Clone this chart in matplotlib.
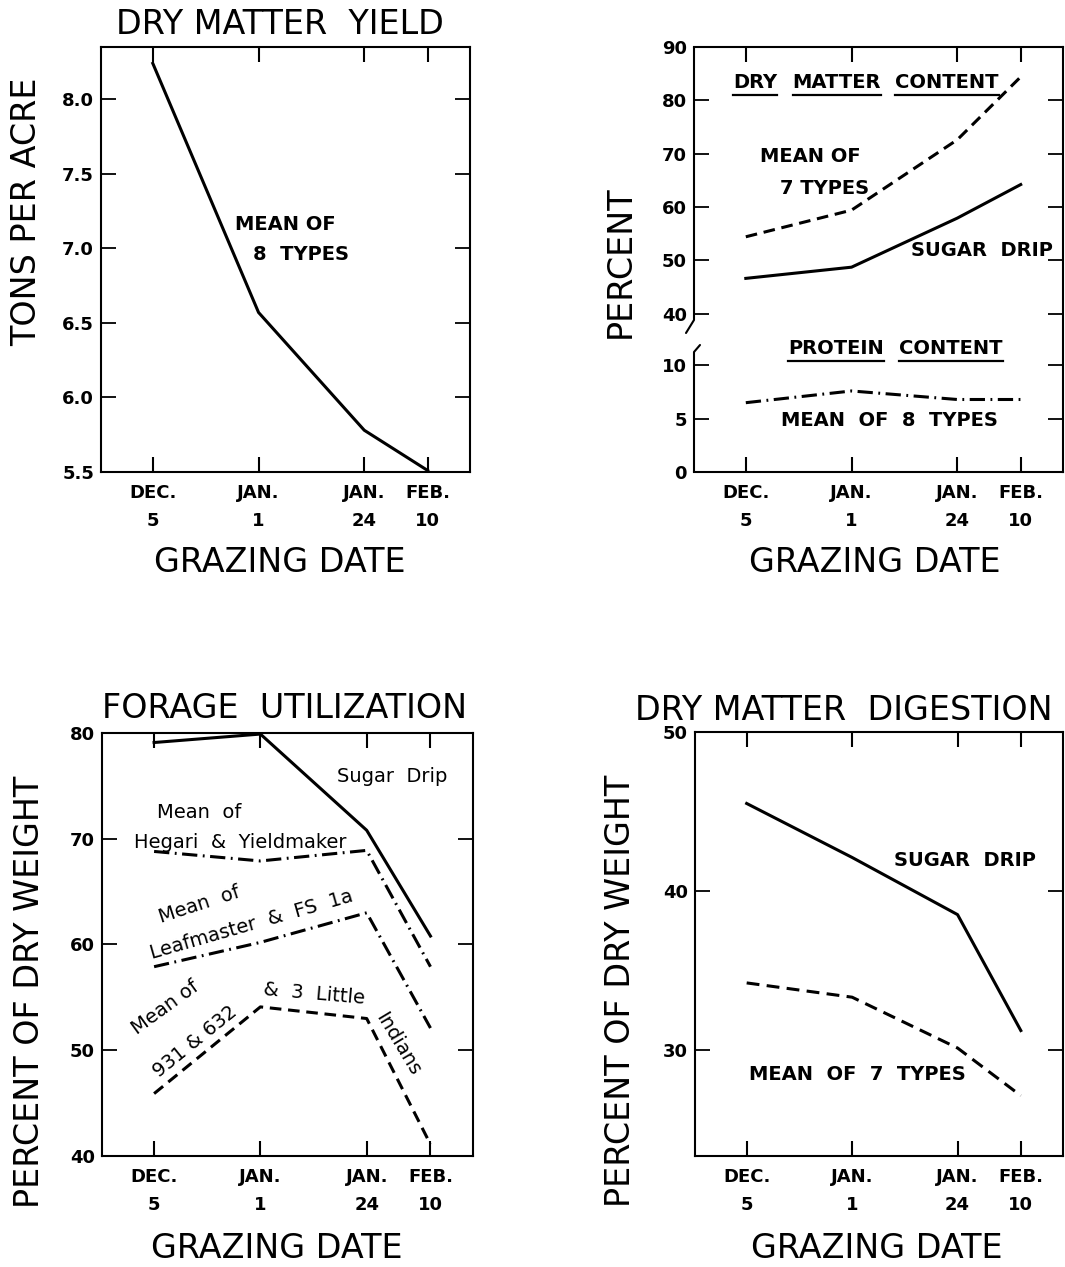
import matplotlib
matplotlib.use("Agg")
import matplotlib.pyplot as plt
import numpy as np
from matplotlib.lines import Line2D

# ---------------- data ----------------
date_labels = ["DEC.\n5", "JAN.\n1", "JAN.\n24", "FEB.\n10"]
date_pos = [0, 1, 2, 2.6]

yield_mean8 = [8.24, 6.57, 5.78, 5.51]

drymatter_mean7 = [54.4, 59.4, 72.6, 84.4]
drymatter_sugar = [46.6, 48.7, 57.9, 64.2]
protein_mean8 = [6.5, 7.6, 6.8, 6.8]

util_sugar = [79.1, 79.9, 70.8, 60.8]
util_hegari = [68.8, 67.9, 68.9, 57.9]
util_leafmaster = [57.9, 60.2, 63.0, 52.1]
util_931 = [45.9, 54.1, 53.0, 41.1]

digest_sugar = [45.5, 42.1, 38.5, 31.2]
digest_mean7 = [34.2, 33.3, 30.1, 27.1]

yield_ticks = [5.5, 6.0, 6.5, 7.0, 7.5, 8.0]
content_ticks = [0, 5, 10, 40, 50, 60, 70, 80, 90]
util_ticks = [40, 50, 60, 70, 80]
digest_ticks = [30, 40, 50]

# ---------------- figure ----------------
W, H = 1065, 1267
fig = plt.figure(figsize=(W / 100, H / 100), dpi=100)
fig.patch.set_facecolor("white")

LW = 2.2
SP = 1.5
FS_TICK = 13
FS_BIG = 24
FS_LAB = 14


def fx(px):
    return px / W


def fy(py):
    return 1 - py / H


def add_ax(l, t, r, b):
    return fig.add_axes([l / W, 1 - b / H, (r - l) / W, (b - t) / H])


def style(ax, yticks, ytlabels):
    ax.set_xlim(-0.49, 3.0)
    ax.set_xticks(date_pos)
    ax.set_xticklabels(date_labels, fontsize=FS_TICK, fontweight="bold",
                       linespacing=1.65)
    ax.set_yticks(yticks)
    ax.set_yticklabels(ytlabels, fontsize=FS_TICK, fontweight="bold")
    ax.tick_params(axis="x", direction="in", top=True, bottom=True,
                   length=11, width=1.5, pad=9)
    ax.tick_params(axis="y", direction="in", left=True, right=True,
                   length=11, width=1.3, pad=5)
    for s in ax.spines.values():
        s.set_linewidth(SP)


def ftext(x, y, s, size=FS_LAB, weight="bold", rot=0, **kw):
    return fig.text(fx(x), fy(y), s, fontsize=size, fontweight=weight,
                    ha="center", va="center", rotation=rot,
                    rotation_mode="anchor", **kw)


dash = (3.8, 2.2)
dashdot = (5.0, 1.8, 0.6, 1.8)

# ---------------- panel 1: dry matter yield ----------------
ax1 = add_ax(101, 47, 470, 472)
ax1.plot(date_pos, yield_mean8, color="k", lw=LW)
ax1.set_ylim(5.5, 8.35)
style(ax1, yield_ticks, [f"{v:.1f}" for v in yield_ticks])
ftext(280, 24, "DRY MATTER  YIELD", size=FS_BIG, weight="normal")
ftext(27, 212, "TONS PER ACRE", size=FS_BIG, weight="normal", rot=90)
ftext(280, 562, "GRAZING DATE", size=FS_BIG, weight="normal")
ftext(285, 225, "MEAN OF")
ftext(301, 255, "8  TYPES")

# ---------------- panel 2: dry matter / protein content ----------------
U40 = 14.86


def fwd(v):
    v = np.asarray(v, dtype=float)
    return np.where(v <= 10, v,
                    np.where(v >= 40, U40 + (v - 40) / 2.0,
                             10 + (v - 10) * (U40 - 10) / 30.0))


def inv(u):
    u = np.asarray(u, dtype=float)
    return np.where(u <= 10, u,
                    np.where(u >= U40, 40 + (u - U40) * 2.0,
                             10 + (u - 10) * 30.0 / (U40 - 10)))


ax2 = add_ax(694, 47, 1063, 472)
ax2.set_yscale("function", functions=(fwd, inv))
ax2.plot(date_pos, drymatter_mean7, color="k", lw=LW, ls=(0, dash))
ax2.plot(date_pos, drymatter_sugar, color="k", lw=LW)
ax2.plot(date_pos, protein_mean8, color="k", lw=LW, ls=(0, dashdot))
ax2.set_ylim(0, 90)
style(ax2, content_ticks, [str(v) for v in content_ticks])
ax2.spines["left"].set_visible(False)


def a2(px, py):
    return ((px - 694) / (1063 - 694), (472 - py) / (472 - 47))


for seg in ([(694, 47), (694, 320), (686, 333)],
            [(700, 345), (694, 352), (694, 472)]):
    pts = [a2(*p) for p in seg]
    ax2.plot([p[0] for p in pts], [p[1] for p in pts], color="k", lw=SP,
             transform=ax2.transAxes, clip_on=False, solid_capstyle="round")

ftext(620, 262, "PERCENT", size=FS_BIG, weight="normal", rot=90)
ftext(875, 562, "GRAZING DATE", size=FS_BIG, weight="normal")
ftext(810, 157, "MEAN OF")
ftext(825, 188, "7 TYPES")
ftext(982, 251, "SUGAR  DRIP")
ftext(889, 420, "MEAN  OF  8  TYPES")

under_words = [
    (ftext(755, 82, "DRY"), 95),
    (ftext(837, 82, "MATTER"), 95),
    (ftext(947, 82, "CONTENT"), 95),
    (ftext(836, 349, "PROTEIN"), 361),
    (ftext(951, 349, "CONTENT"), 361),
]

# ---------------- panel 3: forage utilization ----------------
ax3 = add_ax(102, 733, 473, 1156)
ax3.plot(date_pos, util_sugar, color="k", lw=LW)
ax3.plot(date_pos, util_hegari, color="k", lw=LW, ls=(0, dashdot))
ax3.plot(date_pos, util_leafmaster, color="k", lw=LW, ls=(0, dashdot))
ax3.plot(date_pos, util_931, color="k", lw=LW, ls=(0, dash))
ax3.set_ylim(40, 80)
style(ax3, util_ticks, [str(v) for v in util_ticks])
ftext(285, 709, "FORAGE  UTILIZATION", size=FS_BIG, weight="normal")
ftext(30, 992, "PERCENT OF DRY WEIGHT", size=FS_BIG, weight="normal", rot=90)
ftext(277, 1249, "GRAZING DATE", size=FS_BIG, weight="normal")
ftext(392, 777, "Sugar  Drip", weight="normal")
ftext(199, 813, "Mean  of", weight="normal")
ftext(240, 842, "Hegari  &  Yieldmaker", weight="normal")
ftext(199, 905, "Mean  of", weight="normal", rot=18)
ftext(252, 925, "Leafmaster  &  FS  1a", weight="normal", rot=16)
ftext(165, 1008, "Mean of", weight="normal", rot=36)
ftext(195, 1042, "931 & 632", weight="normal", rot=39)
ftext(314, 994, "&  3  Little", weight="normal", rot=-5)
ftext(398, 1044, "Indians", weight="normal", rot=-59)

# ---------------- panel 4: dry matter digestion ----------------
ax4 = add_ax(695, 732, 1063, 1156)
ax4.plot(date_pos, digest_sugar, color="k", lw=LW)
ax4.plot(date_pos, digest_mean7, color="k", lw=LW, ls=(0, (4.2, 2.4)))
ax4.set_ylim(23.3, 50)
style(ax4, digest_ticks, [str(v) for v in digest_ticks])
ftext(844, 711, "DRY MATTER  DIGESTION", size=FS_BIG, weight="normal")
ftext(621, 991, "PERCENT OF DRY WEIGHT", size=FS_BIG, weight="normal", rot=90)
ftext(877, 1249, "GRAZING DATE", size=FS_BIG, weight="normal")
ftext(965, 860, "SUGAR  DRIP")
ftext(857, 1074, "MEAN  OF  7  TYPES")

# underlines
fig.canvas.draw()
renderer = fig.canvas.get_renderer()
for t, ypx in under_words:
    bb = t.get_window_extent(renderer)
    fig.add_artist(Line2D([bb.x0 / W, bb.x1 / W], [fy(ypx)] * 2,
                          transform=fig.transFigure, color="k", lw=1.6))

fig.savefig("out.png", dpi=100, facecolor="white")
